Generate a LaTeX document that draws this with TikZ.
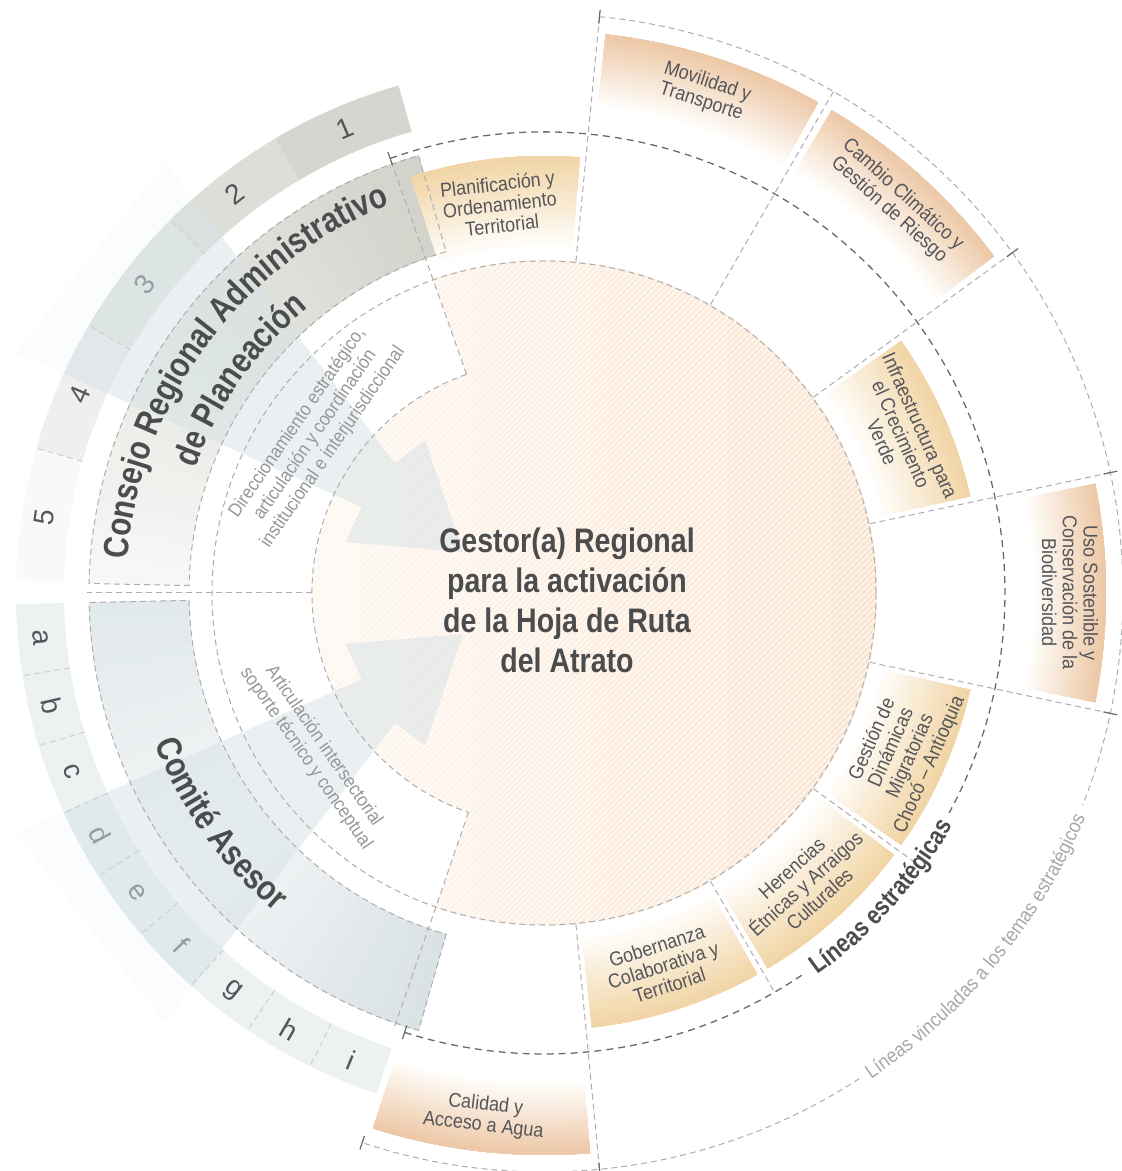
\documentclass[tikz,border=0pt]{standalone}
\usepackage{fontspec}
\setmainfont{Liberation Sans}
\newfontfamily\heavy[FakeStretch=0.84]{Liberation Sans Bold}
\newfontfamily\cond[FakeStretch=0.9]{Liberation Sans}
\usetikzlibrary{calc,decorations.text,patterns}
\definecolor{PeachDisk}{HTML}{FBE5D1}
\definecolor{PeachPale}{HTML}{FFFBF7}
\definecolor{BoxGold}{HTML}{F1D5A6}
\definecolor{BoxPeach}{HTML}{EDC9A7}
\definecolor{BoxPale}{HTML}{FFFDFA}
\definecolor{CouncilDark}{HTML}{D2D4CC}
\definecolor{CouncilPale}{HTML}{F7F7F5}
\definecolor{NumGray}{HTML}{D4D6CF}
\definecolor{CommDark}{HTML}{DAE2E5}
\definecolor{CommMid}{HTML}{E2E9EB}
\definecolor{CommPale}{HTML}{F4F6F7}
\definecolor{LetterBlue}{HTML}{ECF1F2}
\definecolor{ArrowBlue}{HTML}{D6E2E6}
\definecolor{LineGray}{HTML}{ADADAD}
\definecolor{RingGray}{HTML}{6A6A6A}
\definecolor{TextDark}{HTML}{4B4C4E}
\definecolor{BoxText}{HTML}{55565A}
\definecolor{NoteGray}{HTML}{979797}
\definecolor{OuterText}{HTML}{A8A8A8}

% annular sector, colour going from #5 (inner radius) to #6 (outer radius)
\newcommand{\radband}[6]{%
  \foreach \k in {0,...,20}{%
    \pgfmathsetmacro\bandr{#3+(#4-#3)*\k/21}%
    \pgfmathtruncatemacro\bandp{5*\k}%
    \fill[#6!\bandp!#5] (#1:\bandr) arc[start angle=#1,end angle=#2,radius=\bandr]
      -- (#2:#4) arc[start angle=#2,end angle=#1,radius=#4] -- cycle;}}
% annular sector, colour going from #5 (angle #1) to #6 (angle #2)
\newcommand{\angband}[6]{%
  \foreach \k in {0,...,20}{%
    \pgfmathsetmacro\banda{#2+(#1-#2)*\k/21}%
    \pgfmathtruncatemacro\bandp{5*\k}%
    \fill[#5!\bandp!#6] (#1:#3) arc[start angle=#1,end angle=\banda,radius=#3]
      -- (\banda:#4) arc[start angle=\banda,end angle=#1,radius=#4] -- cycle;}}

\begin{document}
\begin{tikzpicture}[x=0.5pt,y=0.5pt,
    dsh/.style={draw=LineGray,line width=0.5pt,dash pattern=on 3pt off 2pt},
    rng/.style={draw=RingGray,line width=0.65pt,dash pattern=on 3.5pt off 2.5pt},
    tk/.style={draw=RingGray,line width=0.6pt},
    lbl/.style={font=\cond\fontsize{10}{10.4}\selectfont,text=BoxText,align=center,inner sep=0pt},
    num/.style={font=\fontsize{14}{14}\selectfont,text=BoxText,inner sep=0pt},
    note/.style={font=\cond\fontsize{9.5}{10.8}\selectfont,text=NoteGray,align=center,inner sep=0pt},
    arw/.style={fill=ArrowBlue,fill opacity=0.5},
    tail/.style={fill=ArrowBlue,fill opacity=0.09}]
\useasboundingbox (-544,-578) rectangle (577,593);

% numbered band and lettered band
\foreach \i/\p in {1/100,2/80,3/60,4/36,5/14}{
  \pgfmathsetmacro\angA{106+(\i-1)*14.52}
  \pgfmathsetmacro\angB{\angA+14.52}
  \pgfmathsetmacro\angM{\angA+7.26}
  \fill[NumGray!\p!white] (\angA:480) arc[start angle=\angA,end angle=\angB,radius=480]
    -- (\angB:528) arc[start angle=\angB,end angle=\angA,radius=528] -- cycle;
  \node[num,rotate=\angM-90] (num\i) at (\angM:505) {\i};}
\foreach \ch [count=\i] in {a,b,c,d,e,f,g,h,i}{
  \pgfmathsetmacro\angA{181.2+(\i-1)*7.81}
  \pgfmathsetmacro\angB{\angA+7.81}
  \pgfmathsetmacro\angM{\angA+3.905}
  \fill[LetterBlue] (\angA:480) arc[start angle=\angA,end angle=\angB,radius=480]
    -- (\angB:528) arc[start angle=\angB,end angle=\angA,radius=528] -- cycle;
  \node[num,rotate=\angM+90] (let\ch) at (\angM:505) {\ch};}

% council and advisory committee bands
\angband{106}{178.8}{355}{455}{CouncilDark}{CouncilPale}
\angband{254}{218}{355}{455}{CommDark}{CommPale}
\angband{181.2}{218}{355}{455}{CommMid}{CommPale}

% central disk
\shade[left color=PeachPale,right color=PeachDisk] (0,0) circle[radius=333];
\fill[pattern=north east lines,pattern color=white,fill opacity=0.45] (0,0) circle[radius=333];
\fill[white] (109.5:232) arc[start angle=109.5,end angle=251,radius=232]
  -- (251:345) arc[start angle=251,end angle=109.5,radius=345] -- cycle;

% arrows towards the centre: head, shaft up to the numbered band, faint tail
\coordinate (tipU) at (-81,41);
\coordinate (tipD) at (-81,-41);
\fill[arw] (tipU) -- ($(tipU)+(108.7:118)$) -- ($(tipU)+(127.4:112)$)
  -- ($(tipU)+(156:111)$) -- ($(tipU)+(175.2:118)$) -- cycle;
\fill[arw] ($(tipU)+(127.4:112)$) -- (131.7:528) arc[start angle=131.7,end angle=155.5,radius=528]
  -- ($(tipU)+(156:111)$) -- cycle;
\fill[tail] (131.7:528) -- ($(tipU)+(127.4:490)$) -- ($(tipU)+(156:490)$)
  -- (155.5:528) arc[start angle=155.5,end angle=131.7,radius=528] -- cycle;
\fill[arw] (tipD) -- ($(tipD)+(-108.7:118)$) -- ($(tipD)+(-127.4:112)$)
  -- ($(tipD)+(-156:111)$) -- ($(tipD)+(-175.2:118)$) -- cycle;
\fill[arw] ($(tipD)+(-127.4:112)$) -- (-131.7:528) arc[start angle=-131.7,end angle=-155.5,radius=528]
  -- ($(tipD)+(-156:111)$) -- cycle;
\fill[tail] (-131.7:528) -- ($(tipD)+(-127.4:490)$) -- ($(tipD)+(-156:490)$)
  -- (-155.5:528) arc[start angle=-155.5,end angle=-131.7,radius=528] -- cycle;

% strategic lines (inner band) and linked topics (outer band)
\radband{85.3}{107.7}{346}{437}{BoxPale}{BoxGold}
\radband{12.8}{35.2}{346}{437}{BoxPale}{BoxGold}
\radband{-35.2}{-12.8}{346}{437}{BoxPale}{BoxGold}
\radband{-59.2}{-36.8}{346}{437}{BoxPale}{BoxGold}
\radband{-83.7}{-60.8}{346}{437}{BoxPale}{BoxGold}
\radband{60.8}{83.7}{490}{562}{BoxPale}{BoxPeach}
\radband{36.8}{59.2}{490}{562}{BoxPale}{BoxPeach}
\radband{-11.2}{11.2}{490}{562}{BoxPale}{BoxPeach}
\radband{-107.7}{-85.3}{490}{562}{BoxPale}{BoxPeach}

% dashed outlines
\draw[dsh] (106:355) arc[start angle=106,end angle=178.8,radius=355]
  -- (178.8:455) arc[start angle=178.8,end angle=106,radius=455] -- cycle;
\draw[dsh] (181.2:355) arc[start angle=181.2,end angle=254,radius=355]
  -- (254:455) arc[start angle=254,end angle=181.2,radius=455] -- cycle;
\foreach \t in {120.52,135.04,149.56,164.08}
  \draw[dsh,draw=LineGray!60!white] (\t:480) -- (\t:528);
\foreach \t in {189.01,196.82,204.63,212.44,220.25,228.06,235.87,243.68}
  \draw[dsh,draw=LineGray!60!white] (\t:480) -- (\t:528);
\draw[dsh] (0,0) circle[radius=332];
\draw[dsh] (109.5:232) arc[start angle=109.5,end angle=251,radius=232];
\draw[dsh] (180:232) -- (180:457);
\draw[dsh] (109.5:232) -- (109.5:461);
\draw[dsh] (251:232) -- (251:461);
\foreach \t in {84.5,60,36,12,-12,-84.5}
  \draw[dsh] (\t:333) -- (\t:579);
\foreach \t in {-36,-60}
  \draw[dsh] (\t:333) -- (\t:461);
\draw[rng] (109.5:461) arc[start angle=109.5,end angle=-28.5,radius=461];
\draw[rng] (-56:461) arc[start angle=-56,end angle=-107.6,radius=461];
\draw[tk] (109.5:454) -- (109.5:468);
\draw[tk] (-107.6:454) -- (-107.6:468);
\draw[dsh] (84.5:579) arc[start angle=84.5,end angle=-21.5,radius=579];
\draw[dsh] (-57:579) arc[start angle=-57,end angle=-108.3,radius=579];
\foreach \t in {84.5,36,12,-12,-84.5,-108.3}
  \draw[tk] (\t:572) -- (\t:586);

% labels
\node[font=\heavy\fontsize{17}{20}\selectfont,text=TextDark,align=center] (gestor) at (23,-7)
  {Gestor(a) Regional\\para la activación\\de la Hoja de Ruta\\del Atrato};
\node[note,rotate=55.4] (direcc) at (145.4:278)
  {Direccionamiento estratégico,\\articulación y coordinación\\institucional e interjurisdiccional};
\node[note,rotate=-55.2] (articul) at (214.8:279)
  {Articulación intersectorial\\soporte técnico y conceptual};
\node[lbl,rotate=6.5] (planif) at (96.5:391) {Planificación y\\Ordenamiento\\Territorial};
\node[lbl,rotate=-66] (infra) at (24:391) {Infraestructura para\\el Crecimiento\\Verde};
\node[lbl,rotate=66] (migra) at (-24:391) {Gestión de\\Dinámicas\\Migratorias\\Chocó – Antioquia};
\node[lbl,rotate=42] (heren) at (-48:391) {Herencias\\Étnicas y Arraigos\\Culturales};
\node[lbl,rotate=17.75] (gober) at (-72.25:391) {Gobernanza\\Colaborativa y\\Territorial};
\node[lbl,rotate=-17.75] (movil) at (72.25:526) {Movilidad y\\Transporte};
\node[lbl,rotate=-42] (clima) at (48:526) {Cambio Climático y\\Gestión de Riesgo};
\node[lbl,rotate=-90] (biodiv) at (0:526) {Uso Sostenible y\\Conservación de la\\Biodiversidad};
\node[lbl,rotate=-6.5] (agua) at (-96.5:526) {Calidad y\\Acceso a Agua};

\path[decorate,decoration={text along path,text align=center,
    text={|\heavy\fontsize{17.6}{20}\selectfont\color{TextDark}|Consejo Regional Administrativo}}]
  (178:418) arc[start angle=178,end angle=109,radius=418];
\path[decorate,decoration={text along path,text align=center,
    text={|\heavy\fontsize{17.6}{20}\selectfont\color{TextDark}|de Planeación}}]
  (178:370) arc[start angle=178,end angle=112,radius=370];
\path[decorate,decoration={text along path,text align=center,
    text={|\heavy\fontsize{17.6}{20}\selectfont\color{TextDark}|Comité Asesor}}]
  (193:417) arc[start angle=193,end angle=238,radius=417];
\path[decorate,decoration={text along path,text align=center,
    text={|\heavy\fontsize{13}{15}\selectfont\color{TextDark}|Líneas estratégicas}}]
  (-64:470) arc[start angle=-64,end angle=-20,radius=470];
\path[decorate,decoration={text along path,text align=center,
    text={|\cond\fontsize{10}{12}\selectfont\color{OuterText}|Líneas vinculadas a los temas estratégicos}}]
  (-62:586) arc[start angle=-62,end angle=-16.6,radius=586];
\end{tikzpicture}
\end{document}
